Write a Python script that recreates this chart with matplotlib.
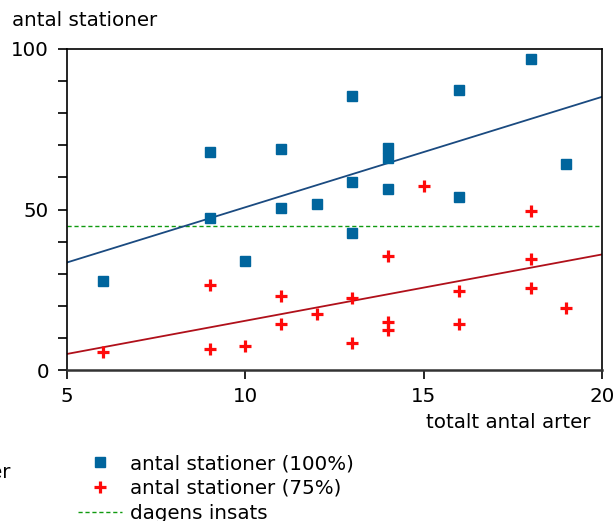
import matplotlib
matplotlib.use("Agg")
import matplotlib.pyplot as plt
import numpy as np

plt.rcParams['font.family'] = ['DejaVu Sans']

# data
x100 = [6, 9, 9, 10, 11, 11, 12, 13, 13, 13, 14, 14, 14, 16, 16, 18, 19]
y100 = [27.8, 68, 47.5, 33.9, 68.8, 50.6, 51.6, 85.4, 58.6, 42.6, 69.2, 66, 56.4, 87.2, 53.9, 96.9, 64.2]

x75 = [6, 9, 9, 10, 11, 11, 12, 13, 13, 14, 14, 14, 15, 16, 16, 18, 18, 18, 19]
y75 = [5.5, 26.5, 6.4, 7.6, 23.1, 14.3, 17.3, 22.5, 8.4, 35.6, 15, 12.4, 57.4, 24.6, 14.4, 49.5, 34.5, 25.4, 19.4]

fit_x = [5, 20]
fit100 = [33.5, 85.1]
fit75 = [5.0, 36.0]
dagens = 45

xticks = [5, 10, 15, 20]
yticks = [0, 50, 100]

FS = 14.3

fig = plt.figure(figsize=(6.16, 5.21), dpi=100)
ax = fig.add_axes([67/616, 1-370/521, (602-67)/616, (370-49)/521])

l3 = ax.axhline(dagens, color='#109a10', lw=1.0, ls=(0, (3, 2)), label='dagens insats')
ax.plot(fit_x, fit100, color='#1a4a80', lw=1.3)
ax.plot(fit_x, fit75, color='#b0101a', lw=1.3)
l1, = ax.plot(x100, y100, ls='none', marker='s', ms=6.5, color='#00659d', label='antal stationer (100%)')
l2, = ax.plot(x75, y75, ls='none', marker='+', ms=8, mew=2.3, color='#ff0a0a', label='antal stationer (75%)')

ax.set_xlim(5, 20)
ax.set_ylim(0, 100)
ax.set_xticks(xticks)
ax.set_yticks(yticks)
ax.set_yticks(np.arange(0, 101, 10), minor=True)
ax.tick_params(axis='both', which='both', direction='out', length=6.5, width=1.2, labelsize=FS, color='black', pad=6.5)
ax.tick_params(axis='x', pad=6)
for s in ax.spines.values():
    s.set_linewidth(1.2)
ax.spines['bottom'].set_linewidth(1.8)
ax.spines['bottom'].set_color('#333333')

fig.text(12/616, 1-20/521, 'antal stationer', fontsize=FS, ha='left', va='center')
fig.text(590/616, 1-423/521, 'totalt antal arter', fontsize=FS, ha='right', va='center')
fig.text(11/616, 1-473/521, 'arter', fontsize=FS, ha='right', va='center')

fig.legend(handles=[l1, l2, l3], loc='upper left', bbox_to_anchor=(78/616, 1-454/521),
           frameon=False, fontsize=FS, handlelength=2.2, handletextpad=0.4,
           labelspacing=0.3, borderpad=0, borderaxespad=0)

fig.savefig('out.png', dpi=100)
